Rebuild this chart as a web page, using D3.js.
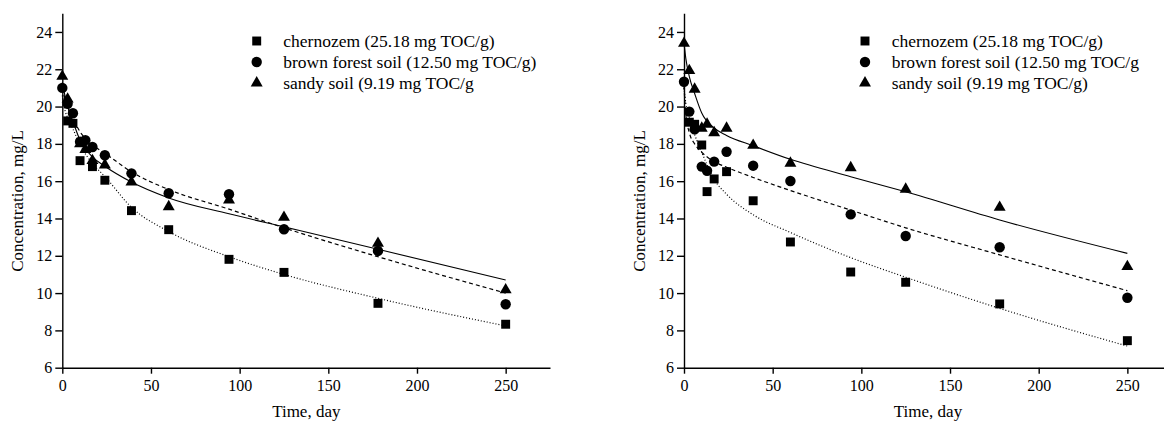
<!DOCTYPE html>
<html>
<head>
<meta charset="utf-8">
<script src="https://cdn.jsdelivr.net/npm/d3@7"></script>
<style>
    body { margin: 0; background: #fff; }
    svg { display: block; }
    .tick text { font-family: "Liberation Serif", "Times New Roman", serif; font-size: 16px; fill: #000; }
    .lbl { font-family: "Liberation Serif", "Times New Roman", serif; fill: #000; }
</style>
</head>
<body>
<div class="charts_container"></div>
<script>
    // sampling days (markers)
    var days = [0, 3, 6, 10, 13, 17, 24, 39, 60, 94, 125, 178, 250];

    // left panel measured values
    var chernozemA = [null, 19.23, 19.1, 17.1, null, 16.78, 16.05, 14.42, 13.4, 11.81, 11.11, 9.45, 8.33];
    var brownA     = [21.0, 20.15, 19.64, 18.12, 18.2, 17.83, 17.39, 16.42, 15.35, 15.3, 13.42, 12.26, 9.4];
    var sandyA     = [21.62, 20.4, null, 18.0, 17.7, 17.1, 16.87, 15.95, 14.63, 14.99, 14.06, 12.67, 10.17];

    // right panel measured values
    var chernozemB = [null, 19.16, 19.05, 17.94, 15.44, 16.12, 16.51, 14.95, 12.74, 11.13, 10.58, 9.42, 7.45];
    var brownB     = [21.33, 19.73, 18.78, 16.78, 16.56, 17.05, 17.58, 16.83, 16.01, 14.22, 13.06, 12.46, 9.75];
    var sandyB     = [23.39, 21.93, 20.93, 18.84, 19.05, 18.6, 18.84, 17.92, 16.96, 16.72, 15.57, 14.6, 11.42];

    // fitted curves
    var fitDays = [0, 1, 3, 6, 10, 17, 24, 39, 60, 94, 125, 178, 250];
    var chernozemFitA = [20.6, 20.0, 19.4, 18.8, 17.95, 16.95, 16.25, 14.6, 13.3, 11.95, 11.0, 9.72, 8.24];
    var brownFitA     = [21.0, 20.6, 20.0, 19.35, 18.65, 17.95, 17.5, 16.5, 15.55, 14.5, 13.5, 11.95, 10.0];
    var sandyFitA     = [21.3, 20.8, 20.0, 19.2, 18.2, 17.3, 16.8, 15.95, 15.1, 14.25, 13.55, 12.35, 10.7];
    var chernozemFitB = [21.0, 20.2, 19.4, 18.5, 17.55, 16.1, 15.3, 14.2, 13.25, 11.9, 10.85, 9.18, 7.16];
    var brownFitB     = [21.1, 19.6, 18.6, 18.0, 17.55, 17.05, 16.75, 16.2, 15.5, 14.45, 13.5, 12.05, 10.13];
    var sandyFitB     = [23.4, 22.6, 21.6, 20.7, 19.65, 18.85, 18.45, 17.9, 17.17, 16.24, 15.43, 13.92, 12.13];

    // legend labels (as printed, including the missing brackets)
    var legendA = ["chernozem (25.18 mg TOC/g)", "brown forest soil (12.50 mg TOC/g)", "sandy soil (9.19 mg TOC/g"];
    var legendB = ["chernozem (25.18 mg TOC/g)", "brown forest soil (12.50 mg TOC/g", "sandy soil (9.19 mg TOC/g)"];

    // ticks
    var xMajor = [0, 50, 100, 150, 200, 250];
    var xMinor = [25, 75, 125, 175, 225, 275];
    var yMajor = [6, 8, 10, 12, 14, 16, 18, 20, 22, 24];
    var yMinor = [7, 9, 11, 13, 15, 17, 19, 21, 23, 25];

    var W = 1164, H = 422;
    var svg = d3.select('.charts_container')
                .append('svg')
                .attr('width', W)
                .attr('height', H);

    var symbols = [d3.symbolSquare, d3.symbolCircle, d3.symbolTriangle];
    var symSize = [80, 85, 62];
    var dashes = ['1,2', '4,3', null];

    function drawPanel(left, legendX, legendTextX, series, fits, labels) {
        var x = d3.scaleLinear().domain([0, 275]).range([left, left + 487.7]);
        var y = d3.scaleLinear().domain([6, 25]).range([367.7, 13.3]);
        var g = svg.append('g');

        //fitted lines
        var line = d3.line()
                    .x(function(d){ return x(d[0]); })
                    .y(function(d){ return y(d[1]); })
                    .curve(d3.curveMonotoneX);
        fits.forEach(function(f, i){
            g.append('path')
                .datum(fitDays.map(function(t, j){ return [t, f[j]]; }))
                .attr('d', line)
                .style('fill', 'none')
                .style('stroke', '#000')
                .style('stroke-width', i == 2 ? 1.1 : 1.2)
                .style('stroke-dasharray', dashes[i]);
        });

        //markers
        series.forEach(function(s, i){
            var pts = days.map(function(t, j){ return [t, s[j]]; })
                          .filter(function(d){ return d[1] != null; });
            g.selectAll(null)
                .data(pts)
                .enter()
                .append('path')
                .attr('transform', function(d){ return 'translate(' + x(d[0]) + ',' + y(d[1]) + ')'; })
                .attr('d', d3.symbol().type(symbols[i]).size(symSize[i]))
                .style('fill', '#000');
        });

        //axes
        var xAxis = g.append('g').attr('transform', 'translate(0,' + y(6) + ')');
        xAxis.call(d3.axisBottom(x).tickValues(xMinor).tickSize(4).tickSizeOuter(0).tickFormat(''));
        xAxis.call(d3.axisBottom(x).tickValues(xMajor).tickSize(6).tickSizeOuter(0).tickPadding(6));
        var yAxis = g.append('g').attr('transform', 'translate(' + x(0) + ',0)');
        yAxis.call(d3.axisLeft(y).tickValues(yMinor).tickSize(4).tickSizeOuter(0).tickFormat(''));
        yAxis.call(d3.axisLeft(y).tickValues(yMajor).tickSize(7).tickSizeOuter(0).tickPadding(3));
        g.selectAll('.domain, .tick line').style('stroke', '#000').style('stroke-width', 1.4);

        //axis titles
        g.append('text')
            .attr('class', 'lbl')
            .attr('x', left + 244)
            .attr('y', 417)
            .attr('text-anchor', 'middle')
            .style('font-size', '17px')
            .text('Time, day');
        g.append('text')
            .attr('class', 'lbl')
            .attr('transform', 'translate(' + (left - 39) + ',201) rotate(-90)')
            .attr('text-anchor', 'middle')
            .style('font-size', '17px')
            .text('Concentration, mg/L');

        //legend
        labels.forEach(function(txt, i){
            var ly = 41 + i * 21;
            g.append('path')
                .attr('transform', 'translate(' + legendX + ',' + ly + ')')
                .attr('d', d3.symbol().type(symbols[i]).size(symSize[i]))
                .style('fill', '#000');
            g.append('text')
                .attr('class', 'lbl')
                .attr('x', legendTextX)
                .attr('y', ly + 5.5)
                .style('font-size', '17.5px')
                .text(txt);
        });
    }

    drawPanel(62.3, 256.7, 283.3, [chernozemA, brownA, sandyA], [chernozemFitA, brownFitA, sandyFitA], legendA);
    drawPanel(684, 865, 891.7, [chernozemB, brownB, sandyB], [chernozemFitB, brownFitB, sandyFitB], legendB);
</script>
</body>
</html>
